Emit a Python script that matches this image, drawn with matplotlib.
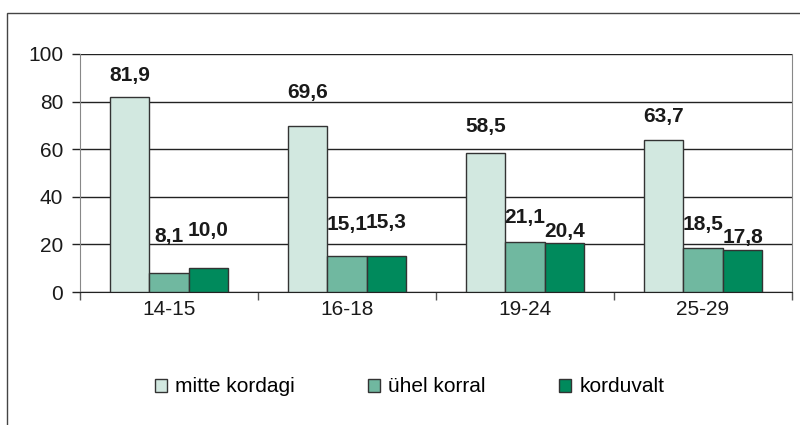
import matplotlib
matplotlib.use("Agg")
import matplotlib.pyplot as plt
import matplotlib.patches as mpatches
import numpy as np

categories = ["14-15", "16-18", "19-24", "25-29"]
series_names = ["mitte kordagi", "ühel korral", "korduvalt"]
mitte_kordagi = [81.9, 69.6, 58.5, 63.7]
uhel_korral = [8.1, 15.1, 21.1, 18.5]
korduvalt = [10.0, 15.3, 20.4, 17.8]
yticks = [0, 20, 40, 60, 80, 100]

colors = ["#D2E8E0", "#70B8A0", "#008A5C"]
# label vertical offsets (pixels above bar top to label center)
label_offsets = [
    [22, 34, 26, 24],
    [36, 32, 24, 23],
    [38, 33, 12, 12],
]

plt.rcParams['font.family'] = ['Liberation Sans', 'DejaVu Sans']

fig = plt.figure(figsize=(8, 4.25), dpi=100)
ax = fig.add_axes([80/800, 1-292/425, (792-80)/800, (292-54)/425])

series = [mitte_kordagi, uhel_korral, korduvalt]
x = np.arange(len(categories))
w = 0.222
for k, vals in enumerate(series):
    pos = x + (k - 1) * w
    ax.bar(pos, vals, width=w, color=colors[k], edgecolor="#333333",
           linewidth=1.0, zorder=3, label=series_names[k])
    for j, v in enumerate(vals):
        ax.annotate(f"{v:.1f}".replace(".", ","), xy=(pos[j], v),
                    xytext=(0, label_offsets[k][j]), textcoords="offset pixels",
                    ha="center", va="center", fontsize=15, fontweight="bold",
                    color="#1a1a1a", zorder=5)

ax.set_xlim(-0.5, len(categories) - 0.5)
ax.set_ylim(0, 100)
ax.set_yticks(yticks)
ax.set_yticklabels([str(t) for t in yticks], fontsize=15, color="#1a1a1a")
ax.tick_params(axis="y", length=6, width=1, color="#222222", pad=6)
ax.yaxis.grid(True, color="#222222", linewidth=1.0, zorder=1)
ax.set_axisbelow(True)

ax.set_xticks(x)
ax.set_xticklabels(categories, fontsize=15, color="#1a1a1a")
ax.tick_params(axis="x", length=0, pad=6)
ax.set_xticks(np.arange(-0.5, len(categories)), minor=True)
ax.tick_params(axis="x", which="minor", length=6, width=1, color="#555555")

ax.spines["top"].set_visible(False)
ax.spines["left"].set_color("#888888")
ax.spines["right"].set_color("#888888")
ax.spines["bottom"].set_color("#222222")

handles = [mpatches.Patch(facecolor=colors[k], edgecolor="#333333", linewidth=1.0)
           for k in range(3)]
fig.legend(handles, series_names, loc="center", bbox_to_anchor=(0.512, 1-387/425),
           ncol=3, frameon=False, fontsize=15, handlelength=0.58, handleheight=0.58,
           handletextpad=0.4, columnspacing=3.5)

border = mpatches.Rectangle((7/800, -0.2), 1.5, 1.2 - 13/425,
                            transform=fig.transFigure, fill=False,
                            edgecolor="#444444", linewidth=1.0)
fig.patches.append(border)

fig.savefig("out.png", dpi=100)
